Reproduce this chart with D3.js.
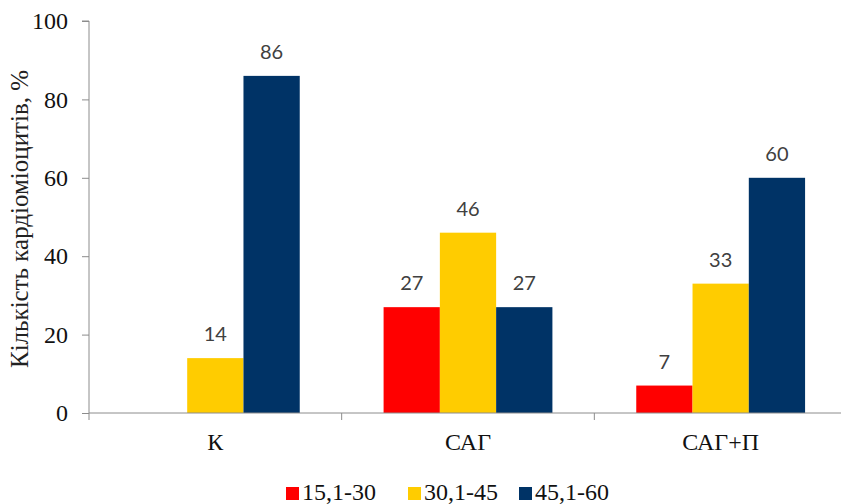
<!DOCTYPE html>
<html>
<head>
<meta charset="utf-8">
<script src="https://cdn.jsdelivr.net/npm/d3@7"></script>
<style>
  html, body { margin: 0; padding: 0; background: #fff; }
  svg { display: block; }
  .serif { font-family: "Times New Roman", Times, "Liberation Serif", Tinos, "Nimbus Roman", "FreeSerif", "DejaVu Serif", "Noto Serif", serif; }
  .sans { font-family: Lato, "Open Sans", sans-serif; }
</style>
</head>
<body>
<svg id="chart" width="841" height="504"></svg>
<script>
// Groups on the x axis
const categories = ["К", "САГ", "САГ+П"];
// Size ranges (series)
const seriesNames = ["15,1-30", "30,1-45", "45,1-60"];
const seriesColors = ["#ff0000", "#ffcc00", "#003366"];
// Percent of cardiomyocytes per group, one array per series (null = no bar)
const values151_30 = [null, 27, 7];
const values301_45 = [14, 46, 33];
const values451_60 = [86, 27, 60];
const yTicks = [0, 20, 40, 60, 80, 100];
const yTitle = "Кількість кардіоміоцитів, %";

const seriesValues = [values151_30, values301_45, values451_60];

const svg = d3.select("#chart");
const axisColor = "#8c8c8c";

const plotLeft = 89, plotRight = 847, plotTop = 21, plotBottom = 413;

const y = d3.scaleLinear().domain([0, 100]).range([plotBottom, plotTop]);
const x0 = d3.scaleBand().domain(categories).range([plotLeft, plotRight]).padding(0);
const x1 = d3.scaleBand().domain(seriesNames).range([0, x0.bandwidth()])
  .paddingInner(0).paddingOuter(0.745);

// Bars
const rows = [];
categories.forEach((c, ci) => {
  seriesNames.forEach((s, si) => {
    const v = seriesValues[si][ci];
    if (v !== null) rows.push({ c, s, si, v });
  });
});

const g = svg.append("g");
g.selectAll("rect.bar").data(rows).enter().append("rect")
  .attr("class", "bar")
  .attr("x", d => x0(d.c) + x1(d.s))
  .attr("width", x1.bandwidth())
  .attr("y", d => y(d.v))
  .attr("height", d => y(0) - y(d.v))
  .attr("fill", d => seriesColors[d.si]);

// Value labels
g.selectAll("text.val").data(rows).enter().append("text")
  .attr("class", "val sans")
  .attr("x", d => x0(d.c) + x1(d.s) + x1.bandwidth() / 2)
  .attr("y", d => y(d.v) - 17)
  .attr("text-anchor", "middle")
  .style("font-size", "20px")
  .attr("fill", "#404040")
  .text(d => d.v);

// Y axis
const yAxis = d3.axisLeft(y).tickValues(yTicks).tickSize(7).tickPadding(14);
const yg = svg.append("g").attr("transform", `translate(${plotLeft},0)`).call(yAxis)
  .attr("font-family", null).attr("font-size", null);
yg.select(".domain").attr("stroke", axisColor).attr("d", `M-7,${plotTop}H0V${plotBottom}`);
yg.selectAll(".tick line").attr("stroke", axisColor);
yg.selectAll(".tick text").attr("class", "serif").style("font-size", "24px").attr("fill", "#111");

// X axis
const xAxis = d3.axisBottom(x0).tickSize(0).tickPadding(20);
const xg = svg.append("g").attr("transform", `translate(0,${plotBottom})`).call(xAxis)
  .attr("font-family", null).attr("font-size", null);
xg.select(".domain").attr("stroke", axisColor).attr("d", `M${plotLeft},0H${plotRight}`);
xg.selectAll(".tick text").attr("class", "serif").style("font-size", "24px").attr("fill", "#111");
// Category separators
const seps = categories.map(c => x0(c)).concat([plotRight]);
xg.selectAll("line.sep").data(seps).enter().append("line")
  .attr("class", "sep")
  .attr("x1", d => d).attr("x2", d => d)
  .attr("y1", 0).attr("y2", 7)
  .attr("stroke", axisColor);

// Y title
svg.append("text")
  .attr("class", "serif")
  .attr("transform", `translate(28,219) rotate(-90)`)
  .attr("text-anchor", "middle")
  .style("font-size", "25px")
  .attr("fill", "#222")
  .text(yTitle);

// Legend
const legendX = [286, 408, 519];
const lg = svg.append("g");
seriesNames.forEach((s, i) => {
  lg.append("rect")
    .attr("x", legendX[i]).attr("y", 487)
    .attr("width", 13).attr("height", 13)
    .attr("fill", seriesColors[i]);
  lg.append("text")
    .attr("class", "serif")
    .attr("x", legendX[i] + 16).attr("y", 500)
    .style("font-size", "24px")
    .attr("fill", "#111")
    .text(s);
});
</script>
</body>
</html>
